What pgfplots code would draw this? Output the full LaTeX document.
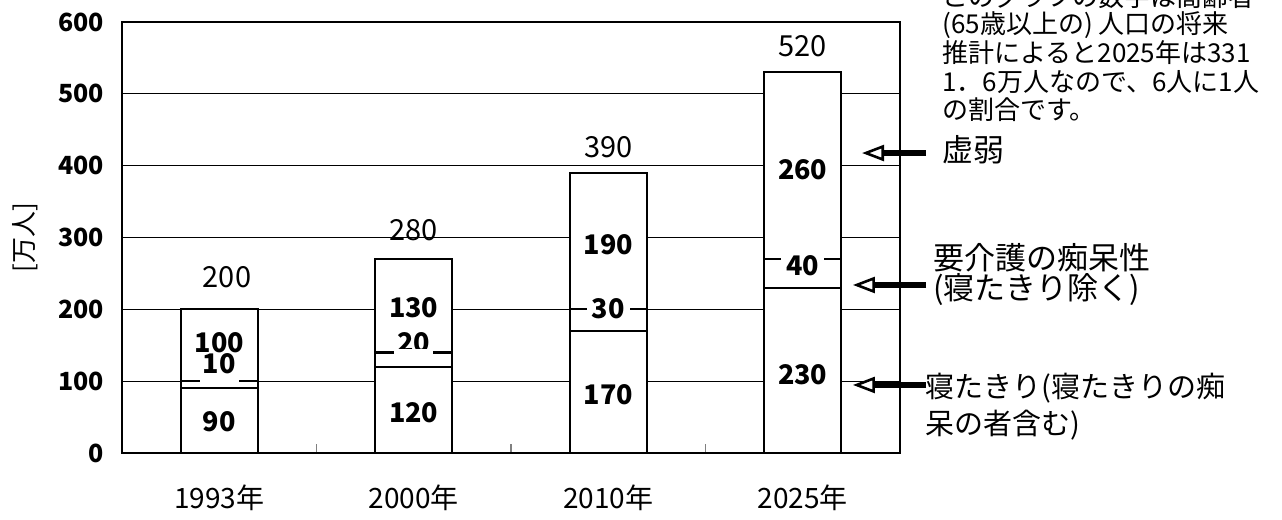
\documentclass[border=0pt]{standalone}
\usepackage{fontspec}
\setmainfont{Noto Sans CJK JP}
\usepackage{pgfplots}
\pgfplotsset{compat=1.18}
\usetikzlibrary{arrows.meta}
\pgfplotsset{
	layers/barsbelow/.define layer set={
		axis background,axis grid,bars,axis ticks,axis lines,axis tick labels,main,axis descriptions,axis foreground
	}{/pgfplots/layers/standard},
}

\begin{document}
\begin{tikzpicture}
\begin{axis}[
	set layers=barsbelow,
	scale only axis,
	width=389pt, height=215.5pt,
	xmin=-0.5, xmax=3.5, ymin=0, ymax=600,
	ybar stacked, bar width=38.5pt,
	xtick={0,1,2,3},
	xticklabels={1993年,2000年,2010年,2025年},
	minor xtick={0.5,1.5,2.5},
	xtick pos=bottom, tick align=inside,
	major tick length=0pt, minor tick length=4.5pt,
	minor x tick style={line width=0.8pt},
	ytick={0,100,...,600},
	y tick style={draw=none},
	ymajorgrids,
	grid style={black, line width=0.5pt},
	axis line style={line width=0.6pt},
	/pgf/number format/assume math mode=true,
	yticklabel style={font=\bfseries\fontsize{12.5}{14}\selectfont, xshift=-5.5pt},
	xticklabel style={font=\fontsize{14}{16}\selectfont, yshift=-12.3pt},
	ylabel={[万人]},
	ylabel style={font=\fontsize{13}{15}\selectfont, at={(axis description cs:-0.125,0.5)}, anchor=center},
	clip=false,
	]
	% 寝たきり
	\addplot[on layer=bars, fill=white, draw=black, line width=1.1pt] coordinates {
		(0,90) (1,120) (2,170) (3,230)
	};
	% 要介護の痴呆性
	\addplot[on layer=bars, fill=white, draw=black, line width=1.1pt] coordinates {
		(0,10) (1,20) (2,30) (3,40)
	};
	% 虚弱
	\addplot[on layer=bars, fill=white, draw=black, line width=1.1pt] coordinates {
		(0,100) (1,130) (2,190) (3,260)
	};

	% gaps in the boundary line under the labels 10 and 20
	\tikzset{gap/.style={fill=white, inner sep=0pt, minimum width=19.5pt, minimum height=3pt}}
	\node[gap] at (axis cs:0,100) {};
	\node[gap] at (axis cs:1,140) {};

	\tikzset{seg/.style={font=\bfseries\fontsize{13.5}{15}\selectfont, inner sep=0pt}}
	\node[seg] at (axis cs:0,43.6) {90};
	\node[seg] at (axis cs:1,56) {120};
	\node[seg] at (axis cs:2,81) {170};
	\node[seg] at (axis cs:3,108.6) {230};
	\node[seg] at (axis cs:0,125) {10};
	\node[seg] at (axis cs:1,153) {20};
	\node[seg, fill=white, inner xsep=2.5pt] at (axis cs:2,201) {30};
	\node[seg, fill=white, inner xsep=2.5pt] at (axis cs:3,261) {40};
	\node[seg] at (axis cs:0,153) {100};
	\node[seg] at (axis cs:1,202) {130};
	\node[seg] at (axis cs:2,290) {190};
	\node[seg] at (axis cs:3,394) {260};

	% totals
	\tikzset{tot/.style={font=\fontsize{14.5}{16}\selectfont, inner sep=0pt}}
	\node[tot] at (axis cs:0.04,245) {200};
	\node[tot] at (axis cs:1,310) {280};
	\node[tot] at (axis cs:2,426) {390};
	\node[tot] at (axis cs:3,566) {520};

	% arrows
	\tikzset{arr/.style={line width=3pt, -{Triangle[length=11pt, width=8pt, line width=1.3pt, fill=white]}}}
	\draw[arr] (axis cs:3.634,417.6) -- (axis cs:3.305,417.6);
	\draw[arr] (axis cs:3.634,233.9) -- (axis cs:3.258,233.9);
	\draw[arr] (axis cs:3.634,94.7) -- (axis cs:3.258,94.7);

	% right-hand labels
	\tikzset{lab/.style={font=\fontsize{15.5}{17}\selectfont, anchor=west, inner sep=0pt}}
	\node[lab] at (axis cs:3.716,421.8) {虚弱};
	\node[lab] at (axis cs:3.670,271.5) {要介護の痴呆性};
	\node[lab] at (axis cs:3.670,227) {(寝たきり除く)};
	\node[lab, font=\fontsize{14.5}{16}\selectfont] at (axis cs:3.628,90.5) {寝たきり(寝たきりの痴};
	\node[lab, font=\fontsize{14.5}{16}\selectfont] at (axis cs:3.628,39) {呆の者含む)};

	% note at top right
	\tikzset{note/.style={font=\fontsize{13}{15}\selectfont, anchor=west, inner sep=0pt}}
	\node[note] at (axis cs:3.716,634.9) {このグラフの数字は高齢者};
	\node[note] at (axis cs:3.716,595.9) {(65歳以上の) 人口の将来};
	\node[note] at (axis cs:3.716,556.9) {推計によると2025年は331};
	\node[note] at (axis cs:3.716,516.5) {1．6万人なので、6人に1人};
	\node[note] at (axis cs:3.716,477.5) {の割合です。};
\end{axis}
\pgfresetboundingbox
\path[use as bounding box] (-61pt,-33.5pt) rectangle (580pt,226.5pt);
\end{tikzpicture}
\end{document}
